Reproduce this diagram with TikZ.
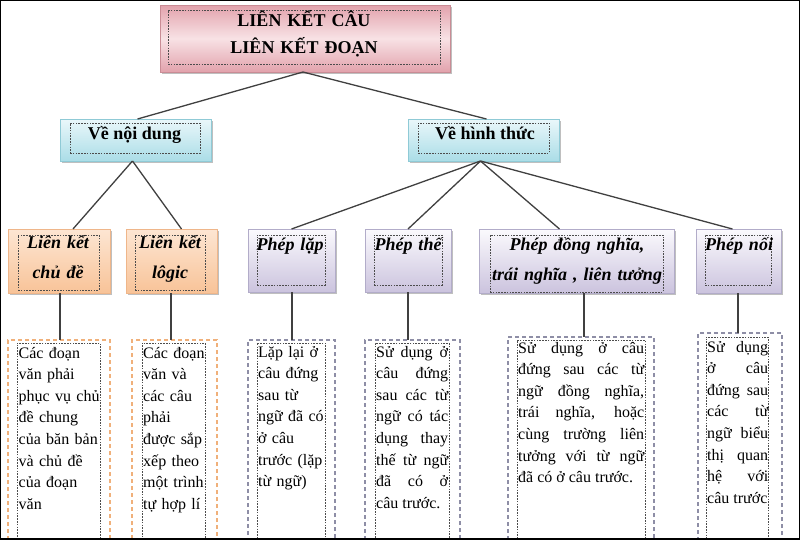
\documentclass[tikz,border=0pt]{standalone}
\usepackage{fontspec}
\setmainfont{Liberation Serif}
\usetikzlibrary{shadows}
\definecolor{pinkA}{HTML}{E2A2AC}
\definecolor{pinkB}{HTML}{F8E2E5}
\definecolor{pinkE}{HTML}{C98C95}
\definecolor{cyanA}{HTML}{EAF7FA}
\definecolor{cyanB}{HTML}{AADDE7}
\definecolor{cyanE}{HTML}{8FCAD6}
\definecolor{oraA}{HTML}{FDE6D3}
\definecolor{oraB}{HTML}{F8C398}
\definecolor{oraE}{HTML}{EFB68A}
\definecolor{purA}{HTML}{FBFAFD}
\definecolor{purB}{HTML}{CBC3DE}
\definecolor{purE}{HTML}{B2ACC9}
\definecolor{oraD}{HTML}{F0B07A}
\definecolor{purD}{HTML}{8E8EA6}
\definecolor{conn}{HTML}{404040}
\begin{document}
\begin{tikzpicture}[x=1pt,y=-1pt,
  boxbase/.style={rectangle, inner sep=0pt, outer sep=0pt, anchor=north west, line width=0.8pt,
    drop shadow={shadow xshift=1.5pt, shadow yshift=-1.8pt, opacity=0.25, fill=black}},
  pinkbox/.style={boxbase, draw=pinkE, top color=pinkA, bottom color=pinkA, middle color=pinkB},
  cyanbox/.style={boxbase, draw=cyanE, top color=cyanA, bottom color=cyanB},
  orabox/.style={boxbase, draw=oraE, top color=oraA, bottom color=oraB},
  purbox/.style={boxbase, draw=purE, top color=purA, bottom color=purB},
  innerdash/.style={rectangle, inner sep=0pt, outer sep=0pt, anchor=north west, draw=black!70,
    line width=0.6pt, dash pattern=on 1.6pt off 1.2pt},
  oradash/.style={rectangle, inner sep=0pt, outer sep=0pt, anchor=north west, draw=oraD,
    line width=1.2pt, dash pattern=on 4pt off 3pt},
  purdash/.style={rectangle, inner sep=0pt, outer sep=0pt, anchor=north west, draw=purD,
    line width=1.2pt, dash pattern=on 4pt off 3pt},
  tone/.style={inner sep=0pt, anchor=base, align=center, text width=#1,
    font=\fontsize{18}{27}\selectfont\bfseries},
  ttwo/.style={inner sep=0pt, anchor=base, font=\fontsize{18}{22}\selectfont\bfseries},
  tthree/.style={inner sep=0pt, anchor=base, align=center, text width=#1,
    font=\fontsize{18}{30}\selectfont\bfseries\itshape},
  tleft/.style={inner sep=0pt, anchor=base west, align=left, text width=#1,
    font=\fontsize{16}{21.6}\selectfont},
  tjust/.style={inner sep=0pt, anchor=base west, align=justify, text width=#1,
    font=\fontsize{16}{21.6}\selectfont},
  link/.style={draw=conn, line width=1.3pt}
]
\useasboundingbox (0,0) rectangle (800,539);
\clip (0,0) rectangle (800,539);
\fill[white] (0,0) rectangle (800,539);

% level 1
\node[pinkbox, minimum width=290, minimum height=67] (top) at (160,5) {};
\node[innerdash, minimum width=272, minimum height=54] (topi) at (168,10) {};
\node[tone=270] (topt) at (304,26) {LIÊN KẾT CÂU\\LIÊN KẾT ĐOẠN};

% level 2
\node[cyanbox, minimum width=151, minimum height=42] (noi) at (60,119) {};
\node[innerdash, minimum width=130, minimum height=30] (noii) at (70,123) {};
\node[ttwo] (noit) at (134.5,139) {Về nội dung};
\node[cyanbox, minimum width=151, minimum height=42] (hinh) at (408,119) {};
\node[innerdash, minimum width=131, minimum height=30] (hinhi) at (418,123) {};
\node[ttwo] (hinht) at (485,139) {Về hình thức};

% level 3
\node[orabox, minimum width=102, minimum height=64] (c1) at (8,229) {};
\node[innerdash, minimum width=81, minimum height=55] (c1i) at (18,235) {};
\node[tthree=100] (c1t) at (58,248) {Liên kết\\chủ đề};
\node[orabox, minimum width=91, minimum height=64] (c2) at (126,229) {};
\node[innerdash, minimum width=70, minimum height=55] (c2i) at (135,235) {};
\node[tthree=90] (c2t) at (170,248) {Liên kết\\lôgic};
\node[purbox, minimum width=87, minimum height=63] (c3) at (248,229) {};
\node[innerdash, minimum width=68, minimum height=50] (c3i) at (257,235) {};
\node[tthree=86] (c3t) at (290,250) {Phép lặp};
\node[purbox, minimum width=86, minimum height=63] (c4) at (365,229) {};
\node[innerdash, minimum width=68, minimum height=50] (c4i) at (374,235) {};
\node[tthree=86] (c4t) at (408,250) {Phép thế};
\node[purbox, minimum width=195, minimum height=64] (c5) at (479,229) {};
\node[innerdash, minimum width=173, minimum height=57] (c5i) at (490,235) {};
\node[tthree=190] (c5t) at (577,250) {Phép đồng nghĩa,\\trái nghĩa , liên tưởng};
\node[purbox, minimum width=85, minimum height=64] (c6) at (696,229) {};
\node[innerdash, minimum width=66, minimum height=50] (c6i) at (705,235) {};
\node[tthree=84] (c6t) at (739,250) {Phép nối};

% level 4
\node[oradash, minimum width=102, minimum height=230] (d1) at (8,340) {};
\node[innerdash, minimum width=83, minimum height=230] (d1i) at (17,343) {};
\node[tleft=81] (d1t) at (18.5,358) {Các đoạn\\văn phải\\phục vụ chủ\\đề chung\\của băn bản\\và chủ đề\\của đoạn\\văn};
\node[oradash, minimum width=85, minimum height=230] (d2) at (132,340) {};
\node[innerdash, minimum width=63, minimum height=230] (d2i) at (142,343) {};
\node[tleft=62] (d2t) at (143,358) {Các đoạn\\văn và\\các câu\\phải\\được sắp\\xếp theo\\một trình\\tự hợp lí};
\node[purdash, minimum width=87, minimum height=230] (d3) at (248,340) {};
\node[innerdash, minimum width=68, minimum height=230] (d3i) at (257,343) {};
\node[tleft=66] (d3t) at (258,357) {Lặp lại ở\\câu đứng\\sau từ\\ngữ đã có\\ở câu\\trước (lặp\\từ ngữ)};
\node[purdash, minimum width=95, minimum height=230] (d4) at (365,340) {};
\node[innerdash, minimum width=74, minimum height=230] (d4i) at (375,343) {};
\node[tjust=72] (d4t) at (376,357) {Sử dụng ở\linebreak câu đứng\linebreak sau các từ\linebreak ngữ có tác\linebreak dụng thay\linebreak thế từ ngữ\linebreak đã có ở\linebreak câu trước.};
\node[purdash, minimum width=146, minimum height=230] (d5) at (508,337) {};
\node[innerdash, minimum width=128, minimum height=230] (d5i) at (517,340) {};
\node[tjust=126] (d5t) at (518,353) {Sử dụng ở câu\linebreak đứng sau các từ\linebreak ngữ đồng nghĩa,\linebreak trái nghĩa, hoặc\linebreak cùng trường liên\linebreak tưởng với từ ngữ\linebreak đã có ở câu trước.};
\node[purdash, minimum width=84, minimum height=230] (d6) at (698,333) {};
\node[innerdash, minimum width=62, minimum height=230] (d6i) at (706,337) {};
\node[tjust=61] (d6t) at (707,352) {Sử dụng\linebreak ở câu\linebreak đứng sau\linebreak các từ\linebreak ngữ biểu\linebreak thị quan\linebreak hệ với\linebreak câu trước};

% connectors
\draw[link] ([xshift=-2pt]top.south) -- ([xshift=2pt]noi.north);
\draw[link] ([xshift=-2pt]top.south) -- ([xshift=3pt]hinh.north);
\draw[link] ([xshift=-3pt]noi.south) -- ([xshift=14pt]c1.north);
\draw[link] ([xshift=-3pt]noi.south) -- ([xshift=10pt]c2.north);
\draw[link] ([xshift=-3pt]hinh.south) -- (c3.north);
\draw[link] ([xshift=-3pt]hinh.south) -- (c4.north);
\draw[link] ([xshift=-3pt]hinh.south) -- ([xshift=-17pt]c5.north);
\draw[link] ([xshift=-3pt]hinh.south) -- ([xshift=-6pt]c6.north);
\draw[link] ([xshift=1pt]c1.south) -- ([xshift=1pt]c1.south |- d1.north);
\draw[link] ([xshift=-0.5pt]c2.south) -- ([xshift=-0.5pt]c2.south |- d2.north);
\draw[link] ([xshift=0.5pt]c3.south) -- ([xshift=0.5pt]c3.south |- d3.north);
\draw[link] (c4.south) -- (c4.south |- d4.north);
\draw[link] ([xshift=7.5pt]c5.south) -- ([xshift=7.5pt]c5.south |- d5.north);
\draw[link] ([xshift=-0.5pt]c6.south) -- ([xshift=-0.5pt]c6.south |- d6.north);

% frame
\draw[line width=2.6pt, black] (0,0) rectangle (800,539);
\end{tikzpicture}
\end{document}
